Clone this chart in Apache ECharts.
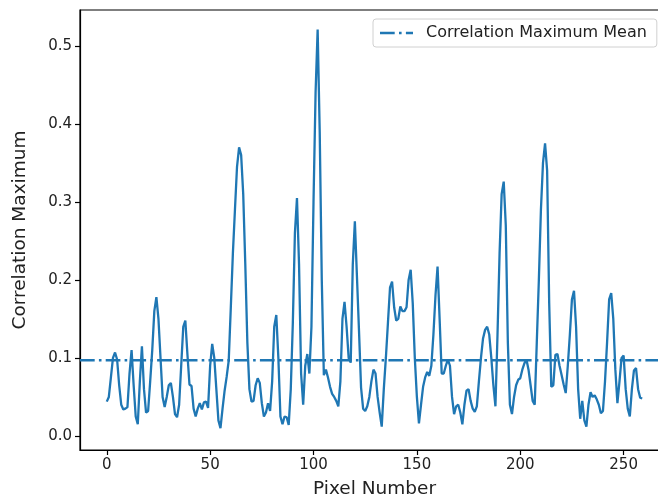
<!DOCTYPE html>
<html>
<head>
<meta charset="utf-8">
<script src="https://cdn.jsdelivr.net/npm/echarts@6/dist/echarts.min.js"></script>
<style>html,body{margin:0;padding:0;background:#fff;}#c{width:658px;height:502px;}</style>
</head>
<body>
<div id="c"></div>
<script>
// Correlation maximum per pixel (index = pixel number 0..259)
const correlationMaximum = [
0.044,0.05,0.075,0.1,0.107,0.098,0.065,0.04,0.034,0.035,
0.037,0.08,0.11,0.065,0.025,0.015,0.07,0.115,0.06,0.03,
0.032,0.07,0.11,0.16,0.178,0.15,0.1,0.05,0.037,0.05,
0.065,0.068,0.05,0.028,0.024,0.04,0.09,0.14,0.148,0.105,
0.066,0.064,0.035,0.025,0.035,0.042,0.034,0.043,0.044,0.036,
0.09,0.118,0.1,0.06,0.02,0.01,0.035,0.058,0.076,0.097,
0.165,0.234,0.29,0.345,0.37,0.36,0.31,0.22,0.12,0.06,
0.044,0.045,0.065,0.074,0.068,0.042,0.025,0.03,0.042,0.032,
0.07,0.14,0.155,0.1,0.025,0.015,0.025,0.024,0.014,0.06,
0.145,0.26,0.305,0.22,0.08,0.04,0.09,0.105,0.08,0.14,
0.3,0.44,0.521,0.39,0.2,0.078,0.085,0.075,0.063,0.054,
0.05,0.045,0.038,0.07,0.15,0.172,0.14,0.1,0.094,0.22,
0.275,0.205,0.135,0.062,0.035,0.032,0.038,0.05,0.07,0.085,
0.08,0.05,0.03,0.012,0.06,0.1,0.145,0.19,0.198,0.165,
0.148,0.15,0.166,0.16,0.16,0.165,0.2,0.213,0.17,0.1,
0.05,0.016,0.04,0.063,0.075,0.082,0.077,0.09,0.13,0.18,
0.217,0.15,0.08,0.08,0.09,0.098,0.09,0.05,0.028,0.038,
0.04,0.03,0.015,0.04,0.058,0.06,0.045,0.035,0.031,0.038,
0.07,0.1,0.125,0.136,0.14,0.13,0.1,0.065,0.038,0.13,
0.234,0.31,0.326,0.27,0.12,0.04,0.028,0.05,0.065,0.072,
0.074,0.085,0.093,0.098,0.085,0.065,0.045,0.04,0.12,0.2,
0.29,0.35,0.375,0.34,0.17,0.063,0.065,0.104,0.105,0.09,
0.078,0.066,0.055,0.09,0.13,0.175,0.186,0.14,0.06,0.022,
0.045,0.02,0.012,0.04,0.056,0.05,0.052,0.047,0.04,0.029,
0.032,0.07,0.12,0.175,0.183,0.15,0.085,0.042,0.07,0.1,
0.103,0.06,0.035,0.025,0.06,0.084,0.087,0.06,0.049,0.048
];
const correlationMean = 0.097;
const xTicks = [0, 50, 100, 150, 200, 250];
const yTicks = [0.0, 0.1, 0.2, 0.3, 0.4, 0.5];
const xRange = [-12.95, 271.95];
const yRange = [-0.018, 0.546];

const FONT = 'DejaVu Sans';
const BLUE = '#1f77b4';

const mainData = correlationMaximum.map((v, i) => [i, v]);
const meanData = [[xRange[0], correlationMean], [xRange[1], correlationMean]];

const chart = echarts.init(document.getElementById('c'), null, {renderer: 'canvas'});
chart.setOption({
  animation: false,
  backgroundColor: '#ffffff',
  grid: {left: 80, top: 10, width: 589, height: 440, outerBoundsMode: 'none', containLabel: false,
         show: true, borderColor: '#000', borderWidth: 1.2, backgroundColor: 'transparent'},
  legend: {
    data: [{name: 'Correlation Maximum Mean',
            icon: 'path://M0 0H14.7V2.4H0Z M19 0H21.6V2.4H19Z M25.9 0H33V2.4H25.9Z'}],
    left: 373, top: 19,
    padding: [6, 10, 6, 7],
    itemWidth: 33, itemHeight: 2.4,
    itemStyle: {color: BLUE},
    backgroundColor: 'rgba(255,255,255,0.8)',
    borderColor: '#d0d0d0', borderWidth: 1, borderRadius: 3,
    textStyle: {fontFamily: FONT, fontSize: 16, color: '#222', padding: [0, 0, 0, 8]}
  },
  xAxis: {
    type: 'value', min: xRange[0], max: xRange[1],
    name: 'Pixel Number', nameLocation: 'middle', nameGap: 30,
    nameTextStyle: {fontFamily: FONT, fontSize: 18.5, color: '#222'},
    axisLine: {show: true, onZero: false, lineStyle: {color: '#000', width: 1.2}},
    axisTick: {show: true, length: 5, lineStyle: {color: '#000', width: 1.2}, customValues: xTicks},
    axisLabel: {fontFamily: FONT, fontSize: 15, color: '#222', margin: 8, customValues: xTicks, formatter: v => String(v)},
    splitLine: {show: false}
  },
  yAxis: {
    type: 'value', min: yRange[0], max: yRange[1],
    name: 'Correlation Maximum', nameLocation: 'middle', nameGap: 50, nameRotate: 90,
    nameTextStyle: {fontFamily: FONT, fontSize: 18.5, color: '#222'},
    axisLine: {show: true, onZero: false, lineStyle: {color: '#000', width: 1.2}},
    axisTick: {show: true, length: 5, lineStyle: {color: '#000', width: 1.2}, customValues: yTicks},
    axisLabel: {fontFamily: FONT, fontSize: 15, color: '#222', margin: 8, customValues: yTicks, formatter: v => v.toFixed(1)},
    splitLine: {show: false}
  },
  series: [
    {
      name: 'Correlation Maximum', type: 'line', data: mainData,
      symbol: 'none', showSymbol: false, smooth: false,
      lineStyle: {color: BLUE, width: 2.3}, itemStyle: {color: BLUE}, z: 3
    },
    {
      name: 'Correlation Maximum Mean', type: 'line', data: meanData,
      symbol: 'none', showSymbol: false,
      lineStyle: {color: BLUE, width: 2.4, type: [14.7, 4.2, 2.6, 4.2]}, itemStyle: {color: BLUE}, z: 2
    }
  ]
});
</script>
</body>
</html>
